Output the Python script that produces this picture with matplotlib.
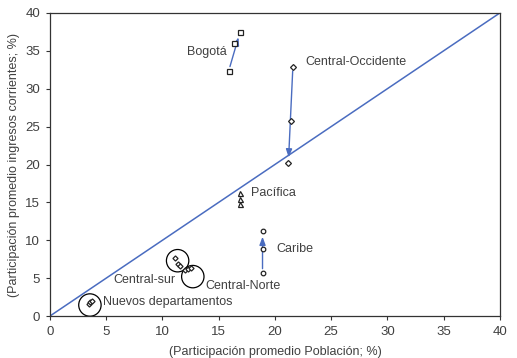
import matplotlib.pyplot as plt

plt.rcParams['font.family'] = ['Liberation Sans', 'DejaVu Sans']

# Regions: (x = share of population %, y = share of current income %) per period
bogota_x = [15.9, 16.35, 16.9]
bogota_y = [32.4, 36.1, 37.5]

occidente_x = [21.6, 21.4, 21.2]
occidente_y = [32.9, 25.8, 20.2]

pacifica_x = [16.9, 16.9, 16.9]
pacifica_y = [16.2, 15.5, 14.8]

caribe_x = [18.9, 18.9, 18.9]
caribe_y = [5.7, 8.8, 11.2]

sur_x = [11.1, 11.35, 11.55]
sur_y = [7.6, 6.9, 6.6]

norte_x = [12.05, 12.3, 12.55]
norte_y = [6.1, 6.2, 6.4]

nuevos_x = [3.45, 3.6, 3.75]
nuevos_y = [1.6, 1.8, 2.0]

# encircled groups (center x, center y)
circle_x = [11.35, 12.7, 3.55]
circle_y = [7.3, 5.2, 1.45]

labels = ['Bogotá', 'Central-Occidente', 'Pacífica', 'Caribe',
          'Central-Norte', 'Central-sur', 'Nuevos departamentos']
label_x = [15.7, 22.7, 17.9, 20.1, 13.8, 5.6, 4.7]
label_y = [34.85, 33.5, 16.2, 8.85, 4.0, 4.75, 1.85]
label_ha = ['right', 'left', 'left', 'left', 'left', 'left', 'left']

blue = '#4a6cc0'
txt = '#404040'

fig = plt.figure(figsize=(5.17, 3.58), dpi=100)
ax = fig.add_axes([0.0967, 0.1173, 0.87, 0.8464])

ax.plot([0, 40], [0, 40], color=blue, lw=1.1, zorder=1)

mk = dict(mfc='white', mec='#222222', mew=0.9, ls='none', zorder=3)
ax.plot(bogota_x, bogota_y, marker='s', ms=3.6, **mk)
ax.plot(occidente_x, occidente_y, marker='D', ms=3.0, **mk)
ax.plot(pacifica_x, pacifica_y, marker='^', ms=3.6, **mk)
ax.plot(caribe_x, caribe_y, marker='o', ms=3.3, **mk)
ax.plot(sur_x, sur_y, marker='D', ms=2.6, **mk)
ax.plot(norte_x, norte_y, marker='D', ms=2.6, **mk)
ax.plot(nuevos_x, nuevos_y, marker='D', ms=2.6, **mk)

ax.scatter(circle_x, circle_y, s=260, facecolors='none', edgecolors='black',
           linewidths=0.9, zorder=2)

# arrows from first to last observation
for xs, ys in [(bogota_x, bogota_y), (occidente_x, occidente_y), (caribe_x, caribe_y)]:
    ax.annotate('', xy=(xs[-1], ys[-1]), xytext=(xs[0], ys[0]),
                arrowprops=dict(arrowstyle='-|>,head_width=0.3,head_length=0.8',
                                color=blue, lw=1.0, mutation_scale=6,
                                shrinkA=3, shrinkB=4),
                zorder=2)

for t, x, y, ha in zip(labels, label_x, label_y, label_ha):
    ax.text(x, y, t, ha=ha, va='center', fontsize=9, color=txt)

ax.set_xlim(0, 40)
ax.set_ylim(0, 40)
ax.set_xticks(range(0, 41, 5))
ax.set_yticks(range(0, 41, 5))
ax.tick_params(direction='out', length=3, width=0.8, colors='#333333',
               labelcolor=txt, labelsize=9.5, pad=4)
for s in ax.spines.values():
    s.set_color('#333333')
    s.set_linewidth(0.9)

ax.set_xlabel('(Participación promedio Población; %)', fontsize=9, color=txt, labelpad=6)
ax.set_ylabel('(Participación promedio ingresos corrientes; %)', fontsize=9, color=txt, labelpad=4)

fig.savefig('out.png', dpi=100)
